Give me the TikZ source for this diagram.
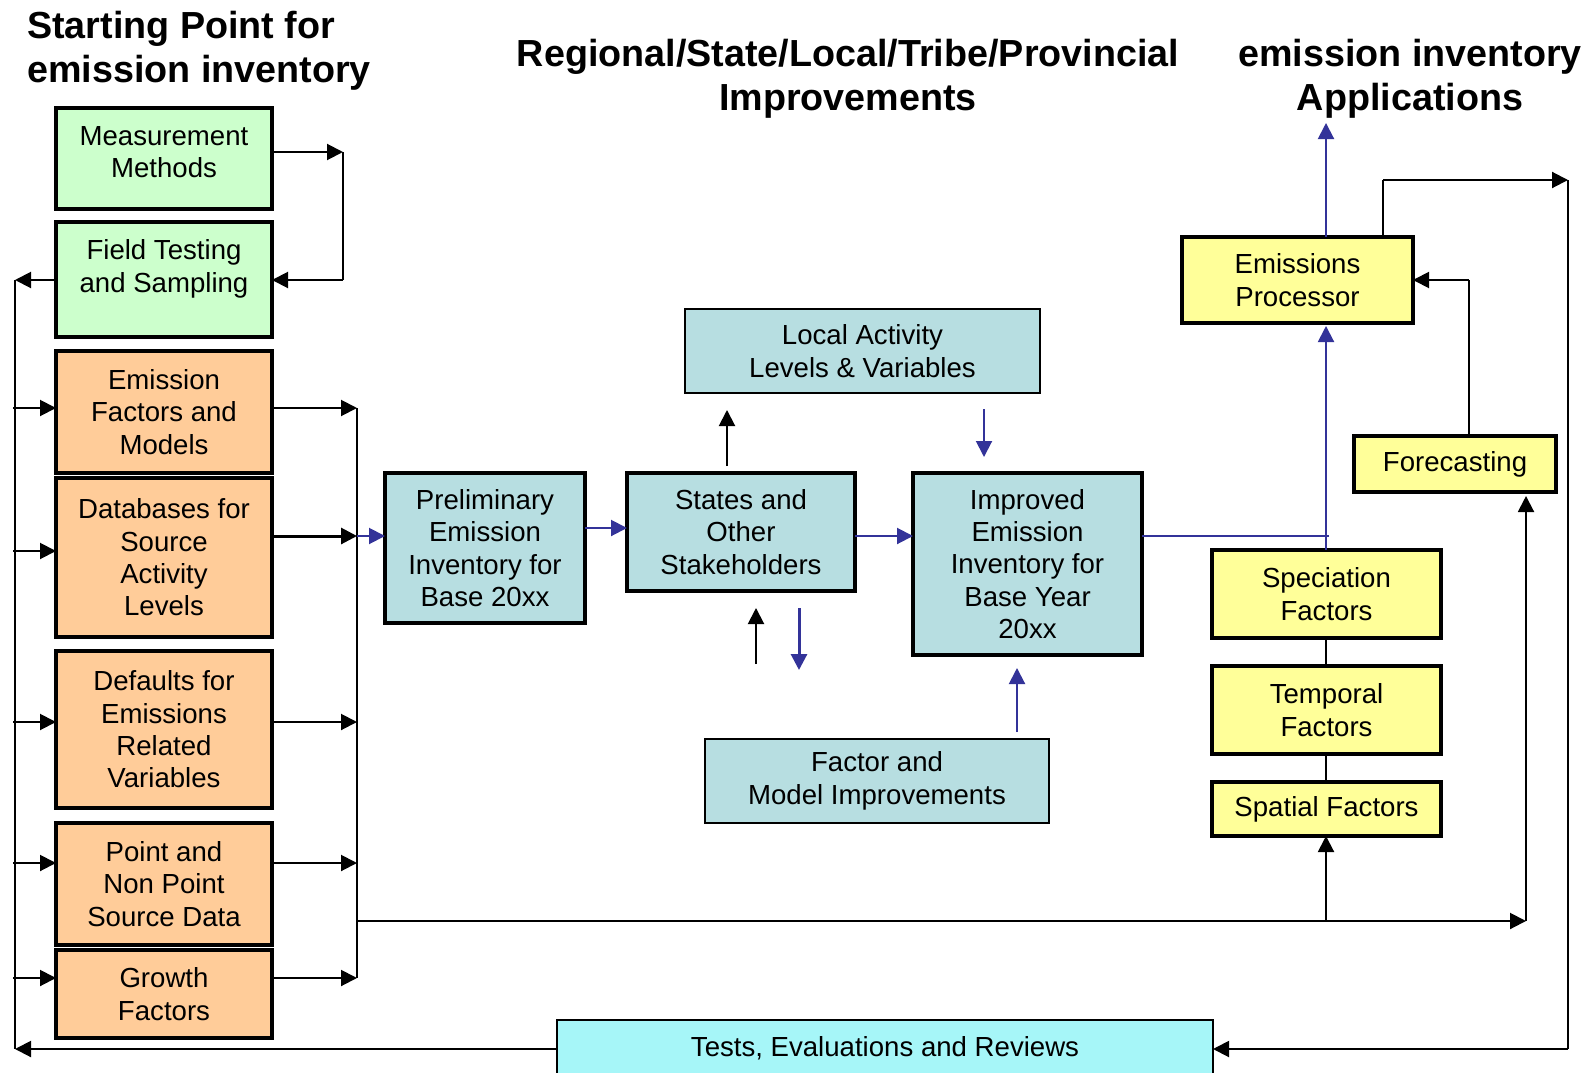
\documentclass[tikz,border=0pt]{standalone}
\usepackage{fontspec}
\setmainfont{Liberation Sans}
\usetikzlibrary{arrows.meta}
\definecolor{grn}{HTML}{CCFFCC}
\definecolor{org}{HTML}{FFCC99}
\definecolor{lbl}{HTML}{B7DEE1}
\definecolor{ylw}{HTML}{FFFF99}
\definecolor{cyn}{HTML}{A6F6F8}
\definecolor{nvy}{HTML}{333399}
\newcommand{\boxfont}{\fontsize{27.6}{32.4}\selectfont}
\newcommand{\ttlfont}{\fontsize{37.7}{43.5}\selectfont\bfseries}
\newcommand{\bx}[7]{\node[#6, minimum width={#4-#2}, minimum height={#5-#3}] (#1) at ({(#2+#4)/2},{(#3+#5)/2}) {#7};}
\begin{document}
\begin{tikzpicture}[x=1pt,y=-1pt,
  box/.style={draw, rectangle, inner sep=0pt, outer sep=0pt, align=center, font=\boxfont},
  thk/.style={box, line width=3.6pt},
  thn/.style={box, line width=1.8pt},
  txt/.style={inner sep=0pt, align=center, font=\boxfont},
  ttl/.style={inner sep=0pt, font=\ttlfont},
  con/.style={line width=2pt},
  arr/.style={con, -{Triangle[length=16pt,width=16pt]}},
  barr/.style={arr, draw=nvy, fill=nvy}]
\fill[white] (0,0) rectangle (1587,1073);
\useasboundingbox (0,0) rectangle (1587,1073);

% titles
\node[ttl, anchor=north west, align=left] (t1) at (27,11) {Starting Point for\\emission inventory};
\node[ttl, anchor=north, align=center] (t2) at (848,39) {Regional/State/Local/Tribe/Provincial\\Improvements};
\node[ttl, anchor=north, align=center] (t3) at (1410,39) {emission inventory\\Applications};

% left column
\bx{meas}{56}{108}{272}{209}{thk, fill=grn}{}
\node[txt] (measT) at (164,152) {Measurement\\Methods};
\bx{field}{56}{222}{272}{337}{thk, fill=grn}{}
\node[txt] (fieldT) at (164,269) {Field Testing\\and Sampling};
\bx{ef}{56}{351}{272}{473}{thk, fill=org}{Emission\\Factors and\\Models}
\bx{db}{56}{478}{272}{637}{thk, fill=org}{Databases for\\Source\\Activity\\Levels}
\bx{def}{56}{651}{272}{808}{thk, fill=org}{Defaults for\\Emissions\\Related\\Variables}
\bx{pt}{56}{823}{272}{945}{thk, fill=org}{Point and\\Non Point\\Source Data}
\bx{gr}{56}{950}{272}{1038}{thk, fill=org}{Growth\\Factors}

% middle
\bx{prelim}{385}{473}{585}{623}{thk, fill=lbl}{Preliminary\\Emission\\Inventory for\\Base 20xx}
\bx{states}{627}{473}{855}{591}{thk, fill=lbl}{States and\\Other\\Stakeholders}
\bx{local}{685}{309}{1040}{393}{thn, fill=lbl}{Local Activity\\Levels \& Variables}
\bx{impr}{913}{473}{1142}{655}{thk, fill=lbl}{Improved\\Emission\\Inventory for\\Base Year\\20xx}
\bx{factor}{705}{739}{1049}{823}{thn, fill=lbl}{Factor and\\Model Improvements}

% right
\bx{ep}{1182}{237}{1413}{323}{thk, fill=ylw}{Emissions\\Processor}
\bx{fore}{1354}{436}{1556}{492}{thk, fill=ylw}{Forecasting}
\bx{spec}{1212}{550}{1441}{638}{thk, fill=ylw}{Speciation\\Factors}
\bx{temp}{1212}{666}{1441}{754}{thk, fill=ylw}{Temporal\\Factors}
\bx{spat}{1212}{782}{1441}{836}{thk, fill=ylw}{Spatial Factors}
\bx{tests}{557}{1020}{1213}{1077}{thn, fill=cyn}{Tests, Evaluations and Reviews}

% measurement -> field loop
\coordinate (c1) at (343,152);
\coordinate (c2) at (343,280);
\draw[arr] (meas.east |- c1) -- (c1);
\draw[con] (c1) -- (c2);
\draw[arr] (c2) -- (field.east |- c2);

% left feedback bus
\coordinate (l1) at (15,280);
\coordinate (l2) at (15,1049);
\draw[arr] (field.west |- l1) -- (l1);
\draw[con] (l1) -- (l2);
\draw[arr] (tests.west |- l2) -- (l2);
\foreach \n/\yy in {ef/408, db/551, def/722, pt/863, gr/978}{
  \coordinate (in-\n) at (13,\yy);
  \draw[arr] (in-\n) -- (\n.west |- in-\n);
}

% right collector bus
\coordinate (rb1) at (357,408);
\coordinate (rb2) at (357,536);
\coordinate (rb3) at (357,722);
\coordinate (rb4) at (357,863);
\coordinate (rb5) at (357,978);
\coordinate (rbm) at (357,921);
\draw[arr] (ef.east |- rb1) -- (rb1);
\draw[arr, line width=3pt] (db.east |- rb2) -- (rb2);
\draw[arr] (def.east |- rb3) -- (rb3);
\draw[arr] (pt.east |- rb4) -- (rb4);
\draw[arr] (gr.east |- rb5) -- (rb5);
\draw[con] (rb1) -- (rb5);
\draw[barr] (rb2) -- (prelim.west |- rb2);

% bottom bus to spatial and forecasting
\coordinate (bm1) at (1326,921);
\coordinate (bm2) at (1526,921);
\draw[arr] (rbm) -- (bm2);
\draw[arr] (bm2) -- ([yshift=-4pt]fore.south -| bm2);
\draw[arr] (bm1) -- (spat.south -| bm1);

% middle flows
\coordinate (p1) at (600,528);
\coordinate (s1) at (880,536);
\draw[barr] (prelim.east |- p1) -- (states.west |- p1);
\draw[barr] (states.east |- s1) -- (impr.west |- s1);
\coordinate (su1) at (727,466);
\coordinate (su2) at (727,410);
\draw[arr] (su1) -- (su2);
\coordinate (ld1) at (984,409);
\coordinate (ld2) at (984,457);
\draw[barr] (ld1) -- (ld2);
\coordinate (sb1) at (756,664);
\coordinate (sb2) at (756,608);
\draw[arr] (sb1) -- (sb2);
\coordinate (sb3) at (799,608);
\coordinate (sb4) at (799,670);
\draw[barr, line width=3pt] (sb3) -- (sb4);
\coordinate (fi1) at (1017,732);
\coordinate (fi2) at (1017,668);
\draw[barr] (fi1) -- (fi2);

% improved -> emissions processor
\coordinate (j1) at (1326,536);
\coordinate (j2) at (1329,536);
\draw[con, nvy] (impr.east |- j1) -- (j2);
\draw[barr] (spec.north -| j1) -- ([yshift=-3pt]ep.south -| j1);
\coordinate (app) at (1326,123);
\draw[barr] (ep.north -| j1) -- (app);

% emissions processor -> tests loop
\coordinate (e1) at (1383,180);
\coordinate (e2) at (1568,180);
\coordinate (e3) at (1568,1049);
\draw[con] (ep.north -| e1) -- (e1);
\draw[arr] (e1) -- (e2);
\draw[con] (e2) -- (e3);
\draw[arr] (e3) -- (tests.east |- e3);

% forecasting -> emissions processor
\coordinate (f1) at (1469,280);
\draw[con] (fore.north -| f1) -- (f1);
\draw[arr] (f1) -- (ep.east |- f1);

% factor stack links
\draw[con] (spec.south -| j1) -- (temp.north -| j1);
\draw[con] (temp.south -| j1) -- (spat.north -| j1);
\end{tikzpicture}
\end{document}
